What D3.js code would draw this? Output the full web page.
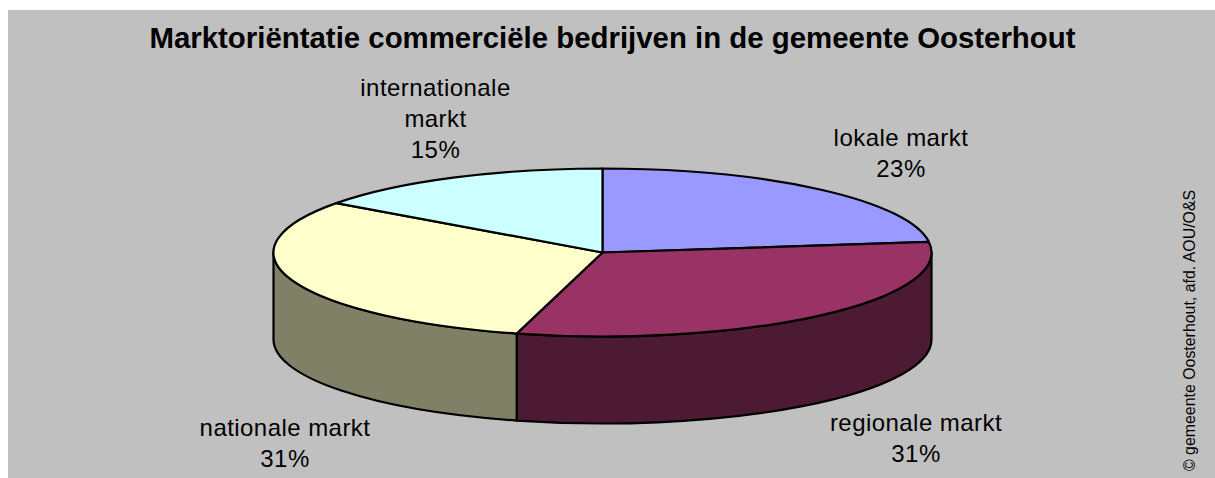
<!DOCTYPE html>
<html><head><meta charset="utf-8">
<script src="https://cdn.jsdelivr.net/npm/d3@7"></script>
<style>html,body{margin:0;padding:0;background:#fff}svg{display:block}text{font-family:"Liberation Sans",Arial,sans-serif;fill:#000}</style>
</head><body><div id="c"></div>
<script>
const categories=[["lokale markt"],["regionale markt"],["nationale markt"],["internationale","markt"]];
const values=[23,31.2,30.8,15];
const percentLabels=["23%","31%","31%","15%"];
const topColors=["#9999FF","#993366","#FFFFCC","#CCFFFF"];
const wallColors=["#4D4D80","#4D1A33","#808066","#668080"];
const titleText="Marktoriëntatie commerciële bedrijven in de gemeente Oosterhout";
const creditText="© gemeente Oosterhout, afd. AOU/O&S";

const W=1215,H=478,cx=602.5,cy=252.5,rx=329,ry=84,depth=87;
const labelPos=[[901,145.5],[916,430.5],[285,436],[435.5,95.5]];
const svg=d3.select("#c").append("svg").attr("width",W).attr("height",H);
svg.append("rect").attr("x",8).attr("y",10).attr("width",W-8).attr("height",H-10).attr("fill","#C0C0C0");

const pie=d3.pie().sort(null).value(d=>d)(values);
const px=a=>cx+rx*Math.sin(a), py=a=>cy-ry*Math.cos(a);
const g=svg.append("g").attr("stroke","#000").attr("stroke-width",2.2).attr("stroke-linejoin","round");

pie.forEach((s,i)=>{
  const a0=Math.max(s.startAngle,Math.PI/2),a1=Math.min(s.endAngle,3*Math.PI/2);
  if(a1<=a0)return;
  g.append("path").attr("fill",wallColors[i]).attr("d",
    `M${px(a0)},${py(a0)}A${rx},${ry} 0 0 1 ${px(a1)},${py(a1)}`+
    `L${px(a1)},${py(a1)+depth}A${rx},${ry} 0 0 0 ${px(a0)},${py(a0)+depth}Z`);
});
pie.forEach((s,i)=>{
  const large=s.endAngle-s.startAngle>Math.PI?1:0;
  g.append("path").attr("fill",topColors[i]).attr("d",
    `M${cx},${cy}L${px(s.startAngle)},${py(s.startAngle)}A${rx},${ry} 0 ${large} 1 ${px(s.endAngle)},${py(s.endAngle)}Z`);
});

svg.append("text").attr("x",612.5).attr("y",47.5).attr("text-anchor","middle")
  .attr("font-size",29.4).attr("font-weight","bold").text(titleText);

categories.forEach((lines,i)=>{
  const t=svg.append("text").attr("text-anchor","middle").attr("font-size",24).attr("letter-spacing",0.45);
  const all=lines.concat(percentLabels[i]);
  all.forEach((l,k)=>t.append("tspan").attr("x",labelPos[i][0]).attr("y",labelPos[i][1]+k*31.3).text(l));
});
svg.append("text").attr("transform","translate(1195,471) rotate(-90)").attr("font-size",15.9).text(creditText);
</script></body></html>
